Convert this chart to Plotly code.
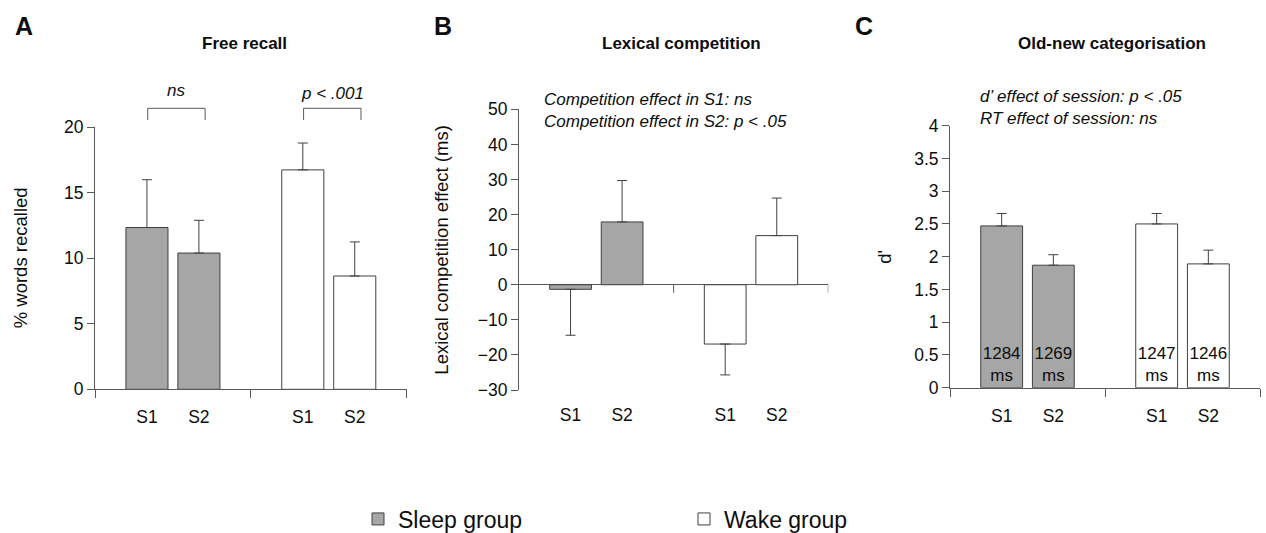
import plotly.graph_objects as go

# ---------------- data ----------------
sessions = ["S1", "S2"]
groups = ["Sleep group", "Wake group"]

recall_sleep = [12.35, 10.4]
recall_sleep_err = [3.65, 2.5]
recall_wake = [16.75, 8.65]
recall_wake_err = [2.05, 2.6]

lex_sleep = [-1.3, 17.9]
lex_sleep_err = [13.1, 11.8]
lex_wake = [-16.9, 14.0]
lex_wake_err = [8.8, 10.7]

dprime_sleep = [2.47, 1.87]
dprime_sleep_err = [0.19, 0.16]
dprime_wake = [2.50, 1.89]
dprime_wake_err = [0.16, 0.21]

rt_sleep = [1284, 1269]
rt_wake = [1247, 1246]

panel_titles = ["Free recall", "Lexical competition", "Old-new categorisation"]
panel_letters = ["A", "B", "C"]
y_titles = ["% words recalled", "Lexical competition effect (ms)", "d'"]

# ---------------- style ----------------
FONT = "Liberation Sans, Arial, sans-serif"
AX = "#595959"
EDGE = "#404040"
TXT = "#0d0d0d"
SLEEP_FILL = "#a6a6a6"
WAKE_FILL = "#ffffff"
W, H = 1266, 533


def px(xp):
    return xp / W


def py(yp):
    return 1 - yp / H


def xpos(g):
    return [g * 2 + (i + 1) * 2 / 3 for i in range(len(sessions))]


def err(vals, errs):
    up = [e if v >= 0 else 0 for v, e in zip(vals, errs)]
    dn = [e if v < 0 else 0 for v, e in zip(vals, errs)]
    return dict(type="data", symmetric=False, array=up, arrayminus=dn,
                color=EDGE, thickness=1, width=5)


fig = go.Figure()

panels = [
    ("x", "y", recall_sleep, recall_sleep_err, recall_wake, recall_wake_err),
    ("x2", "y2", lex_sleep, lex_sleep_err, lex_wake, lex_wake_err),
    ("x3", "y3", dprime_sleep, dprime_sleep_err, dprime_wake, dprime_wake_err),
]

for k, (xa, ya, sv, se, wv, we) in enumerate(panels):
    for g, (vals, errs, fill) in enumerate([(sv, se, SLEEP_FILL), (wv, we, WAKE_FILL)]):
        kw = {}
        if k == 2:
            rts = rt_sleep if g == 0 else rt_wake
            kw = dict(text=[f"{r}<br>ms" for r in rts], textposition="inside",
                      insidetextanchor="start", textangle=0,
                      textfont=dict(family=FONT, size=17, color=TXT),
                      constraintext="none")
        fig.add_trace(go.Bar(
            x=xpos(g), y=vals, width=0.54, xaxis=xa, yaxis=ya,
            name=groups[g], legendgroup=groups[g], showlegend=(k == 0),
            marker=dict(color=fill, line=dict(color=EDGE, width=1)),
            error_y=err(vals, errs), hoverinfo="skip", **kw))

domains_x = [[px(95), px(406.7)], [px(519), px(828.3)], [px(950), px(1260)]]
domains_y = [[py(389.3), py(127.3)], [py(390), py(109.3)], [py(387.7), py(125.7)]]
ranges = [[0, 20], [-30, 50], [0, 4]]
dticks = [5, 10, 0.5]

tickvals = xpos(0) + xpos(1)
ticktext = sessions + sessions

layout = dict(
    width=W, height=H, autosize=False,
    margin=dict(l=0, r=0, t=0, b=0, pad=0, autoexpand=False),
    paper_bgcolor="white", plot_bgcolor="white",
    font=dict(family=FONT, size=17, color=TXT),
    barmode="overlay", showlegend=True,
    legend=dict(orientation="h", x=px(358), y=py(519), xanchor="left", yanchor="middle",
                font=dict(family=FONT, size=23, color=TXT),
                entrywidth=281, entrywidthmode="pixels", bgcolor="rgba(0,0,0,0)"),
)

for k in range(3):
    sfx = "" if k == 0 else str(k + 1)
    xaxis = dict(domain=domains_x[k], range=[0, 4], anchor="y" + sfx, automargin=False,
                 tickmode="array", tickvals=tickvals, ticktext=ticktext,
                 ticks="", showgrid=False, zeroline=False,
                 tickfont=dict(family=FONT, size=17.5, color=TXT),
                 ticklabelstandoff=12, fixedrange=True)
    if k != 1:
        xaxis.update(showline=True, linecolor=AX, linewidth=1,
                     minor=dict(tickmode="array", tickvals=[0, 2, 4], ticks="outside",
                                ticklen=8, tickcolor=AX, tickwidth=1, showgrid=False))
    else:
        xaxis.update(showline=False)
    yaxis = dict(domain=domains_y[k], range=ranges[k], anchor="x" + sfx, automargin=False,
                 dtick=dticks[k], tick0=0, ticks="outside", ticklen=7, tickcolor=AX,
                 tickwidth=1, showline=True, linecolor=AX, linewidth=1,
                 showgrid=False, zeroline=(k == 1), zerolinecolor=AX, zerolinewidth=1,
                 tickfont=dict(family=FONT, size=17.5, color=TXT), fixedrange=True)
    layout["xaxis" + sfx] = xaxis
    layout["yaxis" + sfx] = yaxis

fig.update_layout(**layout)

# B: small downward tick marks on the zero line
for xv in [2, 4]:
    fig.add_shape(type="line", xref="x2", yref="y2", ysizemode="pixel", yanchor=0,
                  x0=xv, x1=xv, y0=0, y1=-8, line=dict(color=AX, width=1))

# titles, letters, y titles
title_x = [244, 681.7, 1111.7]
letter_x = [13, 432, 853]
ytitle_x = [20, 442, 885]
for k in range(3):
    fig.add_annotation(text=f"<b>{panel_titles[k]}</b>", x=px(title_x[k]), y=py(43),
                       xref="paper", yref="paper", xanchor="center", yanchor="middle",
                       showarrow=False, font=dict(family=FONT, size=17, color=TXT))
    fig.add_annotation(text=f"<b>{panel_letters[k]}</b>", x=px(letter_x[k]), y=py(26),
                       xref="paper", yref="paper", xanchor="left", yanchor="middle",
                       showarrow=False, font=dict(family=FONT, size=25, color=TXT))
    yc = (domains_y[k][0] + domains_y[k][1]) / 2
    fig.add_annotation(text=y_titles[k], x=px(ytitle_x[k]), y=yc, textangle=-90,
                       xref="paper", yref="paper", xanchor="center", yanchor="middle",
                       showarrow=False, font=dict(family=FONT, size=18.5, color=TXT))

# A: significance brackets
for g, label, ylab in [(0, "<i>ns</i>", 1.14), (1, "<i>p < .001</i>", 1.13)]:
    c = xpos(g)
    x0, x1 = c[0] + 0.01, c[1] + 0.08
    fig.add_shape(type="path", xref="x", yref="y domain",
                  path=f"M {x0},1.028 L {x0},1.0725 L {x1},1.0725 L {x1},1.028",
                  line=dict(color=AX, width=1))
    fig.add_annotation(text=label, x=(x0 + x1) / 2, y=ylab, xref="x", yref="y domain",
                       xanchor="center", yanchor="middle", showarrow=False,
                       font=dict(family=FONT, size=17, color=TXT))

# B and C stats text
fig.add_annotation(text="<i>Competition effect in S1: ns<br>Competition effect in S2: p < .05</i>",
                   x=px(541.7), y=py(110), xref="paper", yref="paper", xanchor="left",
                   yanchor="middle", align="left", showarrow=False,
                   font=dict(family=FONT, size=17, color=TXT))
fig.add_annotation(text="<i>d\u2019 effect of session: p < .05<br>RT effect of session: ns</i>",
                   x=px(978.3), y=py(108), xref="paper", yref="paper", xanchor="left",
                   yanchor="middle", align="left", showarrow=False,
                   font=dict(family=FONT, size=17, color=TXT))

fig.write_html("out.html", config={"displayModeBar": False},
               post_script="document.body.style.margin='0';")
